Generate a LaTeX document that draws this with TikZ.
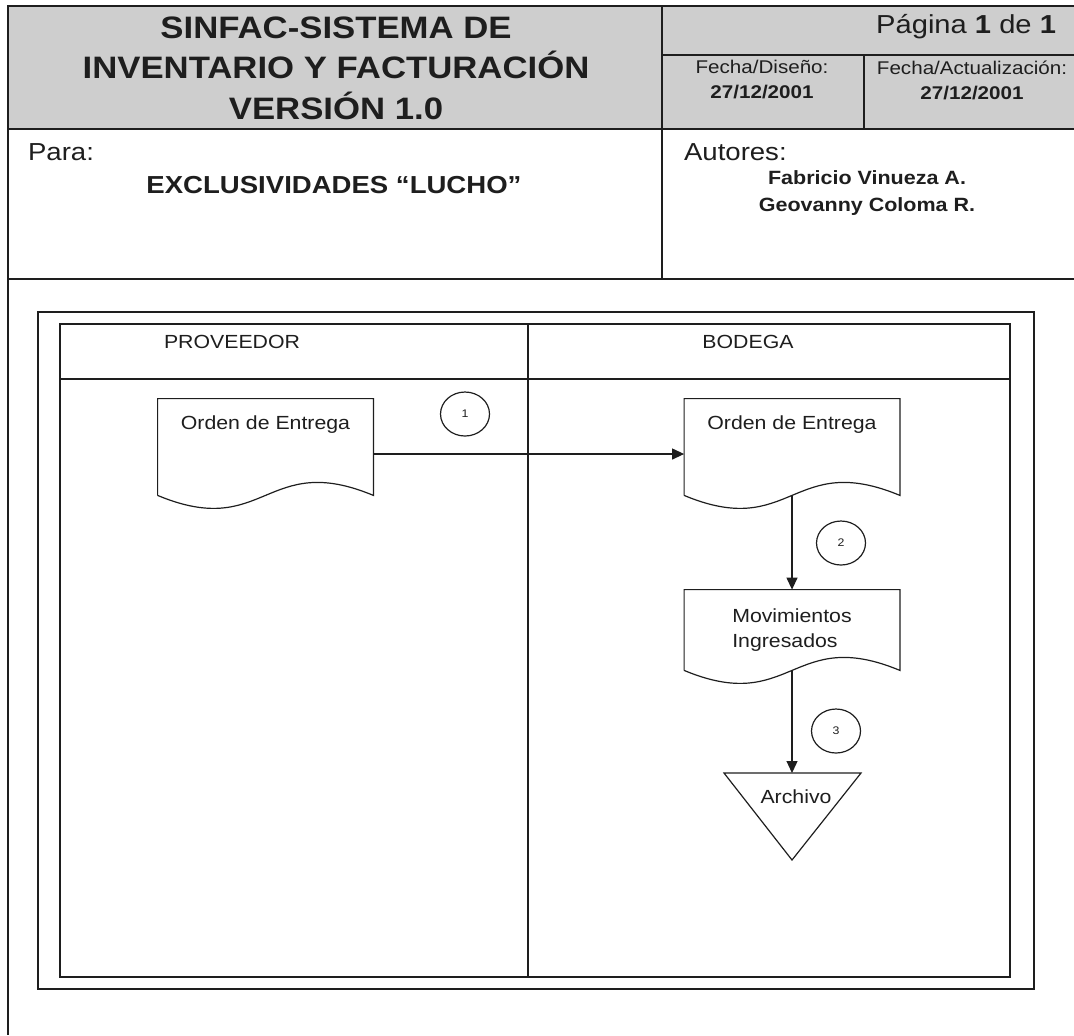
\documentclass[tikz,border=0pt]{standalone}
\usepackage{fontspec}
\setmainfont[FakeStretch=1.12]{Liberation Sans}
\usetikzlibrary{arrows.meta,shapes.geometric,calc}
\definecolor{hdrgray}{RGB}{206,206,206}
\definecolor{ink}{RGB}{30,30,30}

\newcommand{\docshape}[1]{%
\draw[thinline] (#1.south west) -- (#1.north west) -- (#1.north east) -- (#1.south east)
  .. controls ($(#1.south)+(0,-45)$) and ($(#1.south)+(0,45)$) .. (#1.south west);}

\begin{document}
\begin{tikzpicture}[x=0.5pt,y=-0.5pt,text=ink,
  thinline/.style={draw=ink,line width=0.6pt},
  boxline/.style={draw=ink,line width=1pt},
  flow/.style={draw=ink,line width=0.6pt,-{Triangle[length=6pt,width=5.5pt]}},
  lanefont/.style={font=\fontsize{9.5}{12.5}\selectfont},
  docnode/.style={lanefont,rectangle,inner sep=0pt,minimum width=107.5pt,minimum height=48pt},
  toptext/.style={text height=15pt,text depth=33pt},
  stepnum/.style={thinline,ellipse,inner sep=0pt,minimum width=24.5pt,minimum height=22pt,font=\fontsize{5.5}{6}\selectfont}]

\useasboundingbox (0,0) rectangle (1074,1035);

\fill[hdrgray] (8,6) rectangle (1074,129);
\draw[boxline] (1074,6) -- (8,6) -- (8,1035);
\draw[boxline] (8,129) -- (1074,129);
\draw[boxline] (662,55) -- (1074,55);
\draw[boxline] (662,6) -- (662,279);
\draw[boxline] (864,55) -- (864,129);
\draw[boxline] (8,279) -- (1074,279);

\node[font=\fontsize{15.5}{20.25}\selectfont\bfseries,align=center] (title) at (336,68) {SINFAC-SISTEMA DE\\INVENTARIO Y FACTURACIÓN\\VERSIÓN 1.0};
\node[anchor=base east,font=\fontsize{13}{15}\selectfont] (pagina) at (1063,33) {Página \textbf{1} de \textbf{1}};
\node[font=\fontsize{9.2}{12.5}\selectfont,align=center] (fdiseno) at (762,80) {Fecha/Diseño:\\\textbf{27/12/2001}};
\node[font=\fontsize{9.2}{12.5}\selectfont,align=center] (factual) at (972,80) {Fecha/Actualización:\\\textbf{27/12/2001}};
\node[anchor=base west,font=\fontsize{12.3}{14}\selectfont] (para) at (21,160) {Para:};
\node[font=\fontsize{12.3}{14}\selectfont\bfseries] (cliente) at (334,185) {EXCLUSIVIDADES “LUCHO”};
\node[anchor=base west,font=\fontsize{12.3}{14}\selectfont] (autores) at (677,160) {Autores:};
\node[font=\fontsize{9.6}{13.5}\selectfont\bfseries,align=center] (nombres) at (867,193) {Fabricio Vinueza A.\\Geovanny Coloma R.};

\draw[boxline,line width=0.8pt] (38,312) rectangle (1034,989);
\draw[thinline] (60,324) rectangle (1010,977);
\draw[thinline] (60,379) -- (1010,379);
\draw[thinline] (528,324) -- (528,977);

\node[lanefont] (proveedor) at (232,342) {PROVEEDOR};
\node[lanefont] (bodega) at (748,342) {BODEGA};

\node[docnode,toptext] (ordprov) at (265.5,447) {Orden de Entrega};
\node[docnode,toptext] (ordbod) at (792,447) {Orden de Entrega};
\node[docnode,minimum height=40pt,align=left] (movs) at (792,630) {Movimientos\\Ingresados};
\foreach \dname in {ordprov,ordbod,movs}{\docshape{\dname}}

\coordinate (archtop) at (792,773);
\draw[thinline] (724,773) -- (861,773) -- (792,860) -- cycle;
\node[lanefont] (archivo) at (796,797) {Archivo};

\draw[flow] ([yshift=-3.5pt]ordprov.east) -- ([yshift=-3.5pt]ordbod.west);
\draw[flow] (ordbod.south) -- (movs.north);
\draw[flow] (movs.south) -- (archtop);

\node[stepnum] (paso1) at (465,414) {1};
\node[stepnum] (paso2) at (841,543) {2};
\node[stepnum] (paso3) at (836,731) {3};

\end{tikzpicture}
\end{document}
